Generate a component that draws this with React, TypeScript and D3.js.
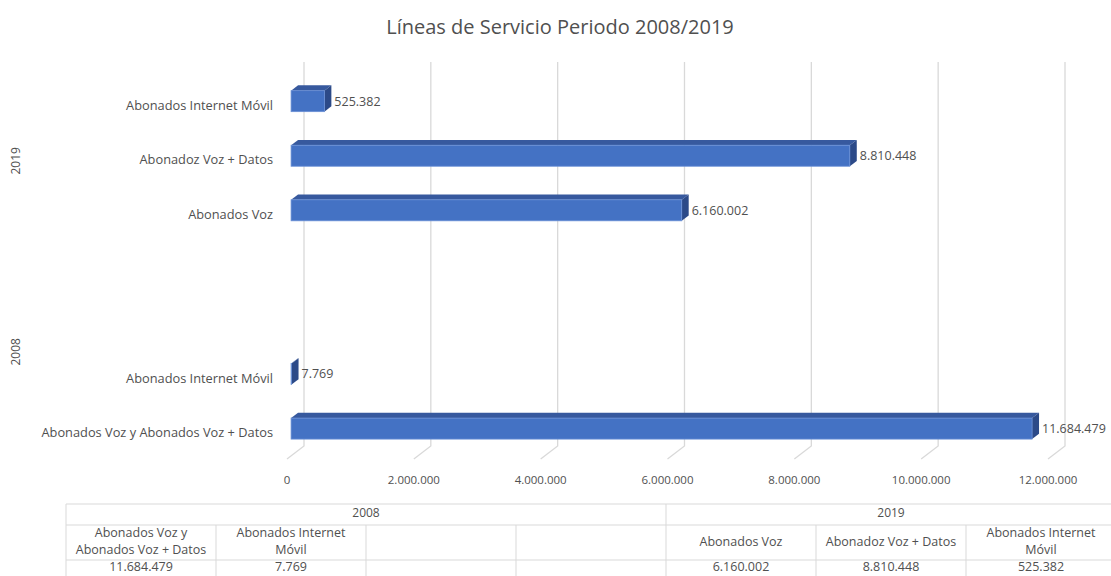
import React from "react";
import * as d3 from "d3";

const title = "Líneas de Servicio Periodo 2008/2019";
const groupNames = ["2008", "2019"];
const categoryGroup = ["2008", "2008", "2008", "2008", "2019", "2019", "2019"];
const categoryLabels = [
  "Abonados Voz y Abonados Voz + Datos",
  "Abonados Internet Móvil",
  "",
  "",
  "Abonados Voz",
  "Abonadoz Voz + Datos",
  "Abonados Internet Móvil",
];
const tableLabels = [
  ["Abonados Voz y", "Abonados Voz + Datos"],
  ["Abonados Internet", "Móvil"],
  [],
  [],
  ["Abonados Voz"],
  ["Abonadoz Voz + Datos"],
  ["Abonados Internet", "Móvil"],
];
const values: (number | null)[] = [11684479, 7769, null, null, 6160002, 8810448, 525382];
const tickValues = [0, 2000000, 4000000, 6000000, 8000000, 10000000, 12000000];

const W = 1111;
const H = 576;
const TEXT = "#505050";
const GRID = "#d9d9d9";
const FONT = "'Open Sans', sans-serif";

const loc = d3.formatLocale({ decimal: ",", thousands: ".", grouping: [3], currency: ["", ""] });
const fmt = loc.format(",d");

export default function App() {
  const x = d3.scaleLinear().domain([0, 12000000]).range([304, 1065]);
  const idx = d3.range(categoryLabels.length);
  const y = d3
    .scaleBand<number>()
    .domain(idx.slice().reverse())
    .range([64, 446])
    .paddingInner(0)
    .paddingOuter(0);
  const DX = -17;
  const DY = 13;
  const fFront = 0.76;
  const fBack = 0.35;
  const barH = 21;
  const bdx = (fBack - fFront) * DX;
  const bdy = (fBack - fFront) * DY;

  const bars = idx
    .filter((i) => values[i] != null)
    .map((i) => {
      const v = values[i] as number;
      const cy = (y(i) as number) + y.bandwidth() / 2 + fFront * DY;
      const x0 = x(0) + fFront * DX;
      const x1 = x(v) + fFront * DX;
      const yt = cy - barH / 2;
      return { i, v, cy, x0, x1, yt };
    });

  const colX = d3.range(8).map((k) => 66 + 150 * k);
  const rowY = [504, 525, 560, 580];

  return (
    <svg
      width={W}
      height={H}
      style={{ position: "absolute", left: 0, top: 0, background: "#fff" }}
      fontFamily={FONT}
    >
      <rect width={W} height={H} fill="#fff" />
      <text x={560} y={34} textAnchor="middle" fontSize={20} fontWeight={400} fill={TEXT}>
        {title}
      </text>

      {tickValues.map((t) => (
        <path
          key={t}
          d={`M${x(t)},62 L${x(t)},446 L${x(t) + DX},${446 + DY}`}
          fill="none"
          stroke={GRID}
          strokeWidth={1.3}
        />
      ))}

      {tickValues.map((t) => (
        <text key={"t" + t} x={x(t) + DX} y={484} textAnchor="middle" fontSize={11.5} fill={TEXT}>
          {fmt(t)}
        </text>
      ))}

      {bars.map((b) => (
        <g key={b.i}>
          <polygon
            points={`${b.x0},${b.yt} ${b.x0 + bdx},${b.yt + bdy} ${b.x1 + bdx},${b.yt + bdy} ${b.x1},${b.yt}`}
            fill="#37599e"
          />
          <polygon
            points={`${b.x1},${b.yt} ${b.x1 + bdx},${b.yt + bdy} ${b.x1 + bdx},${b.yt + barH + bdy} ${b.x1},${b.yt + barH}`}
            fill="#2c4a88"
          />
          <rect
            x={b.x0}
            y={b.yt}
            width={Math.max(b.x1 - b.x0, 0.5)}
            height={barH}
            fill="#4472c4"
            stroke="#6a90d6"
            strokeWidth={0.8}
          />
          <text
            x={b.x1 + bdx + 3}
            y={b.cy + 1}
            dominantBaseline="middle"
            fontSize={12.5}
            fill={TEXT}
          >
            {fmt(b.v)}
          </text>
        </g>
      ))}

      {idx.map((i) => (
        <text
          key={"c" + i}
          x={273}
          y={(y(i) as number) + y.bandwidth() / 2 + DY + 2}
          textAnchor="end"
          dominantBaseline="middle"
          fontSize={12.8}
          fill={TEXT}
        >
          {categoryLabels[i]}
        </text>
      ))}

      {groupNames.map((g) => {
        const members = idx.filter((i) => categoryGroup[i] === g);
        const ys = members.map((i) => (y(i) as number) + y.bandwidth() / 2);
        const cy = (d3.min(ys)! + d3.max(ys)!) / 2 + DY + 2;
        return (
          <text
            key={g}
            transform={`translate(17,${cy}) rotate(-90)`}
            textAnchor="middle"
            dominantBaseline="middle"
            fontSize={12}
            fill={TEXT}
          >
            {g}
          </text>
        );
      })}

      <g stroke={GRID} strokeWidth={1} fill="none">
        <line x1={colX[0]} x2={W} y1={rowY[0]} y2={rowY[0]} />
        <line x1={colX[0]} x2={W} y1={rowY[1]} y2={rowY[1]} />
        <line x1={colX[0]} x2={W} y1={rowY[2]} y2={rowY[2]} />
        <line x1={colX[0]} x2={colX[0]} y1={rowY[0]} y2={rowY[3]} />
        <line x1={colX[4]} x2={colX[4]} y1={rowY[0]} y2={rowY[3]} />
        {[1, 2, 3, 5, 6, 7].map((k) => (
          <line key={k} x1={colX[k]} x2={colX[k]} y1={rowY[1]} y2={rowY[3]} />
        ))}
      </g>
      {groupNames.map((g) => {
        const members = idx.filter((i) => categoryGroup[i] === g);
        const cx = (colX[d3.min(members)!] + colX[d3.max(members)! + 1]) / 2;
        return (
          <text key={"h" + g} x={cx} y={514} textAnchor="middle" dominantBaseline="middle" fontSize={12} fill={TEXT}>
            {g}
          </text>
        );
      })}
      {idx.map((i) => {
        const cx = (colX[i] + colX[i + 1]) / 2;
        const lines = tableLabels[i];
        const mid = (rowY[1] + rowY[2]) / 2;
        return (
          <g key={"tb" + i}>
            {lines.map((l, k) => (
              <text
                key={k}
                x={cx}
                y={mid + (k - (lines.length - 1) / 2) * 17}
                textAnchor="middle"
                dominantBaseline="middle"
                fontSize={12.5}
                fill={TEXT}
              >
                {l}
              </text>
            ))}
            {values[i] != null && (
              <text x={cx} y={568} textAnchor="middle" dominantBaseline="middle" fontSize={12.5} fill={TEXT}>
                {fmt(values[i] as number)}
              </text>
            )}
          </g>
        );
      })}
    </svg>
  );
}
